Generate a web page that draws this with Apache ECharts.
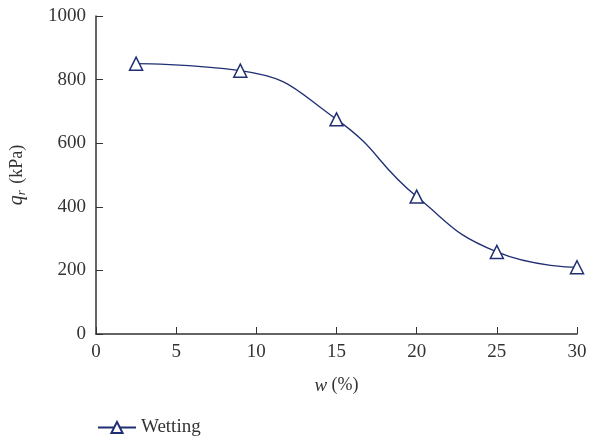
<!DOCTYPE html>
<html>
<head>
<meta charset="utf-8">
<script src="https://cdn.jsdelivr.net/npm/echarts@6/dist/echarts.min.js"></script>
<style>
  html, body { margin: 0; padding: 0; background: #fff; }
  #chart { width: 589px; height: 438px; }
</style>
</head>
<body>
<div id="chart"></div>
<script>
// moisture content w (%) and residual strength q_r (kPa)
var waterContent = [2.5, 9, 15, 20, 25, 30];
var strength = [850, 828, 675, 432, 258, 210];
var seriesName = 'Wetting';

var myChart = echarts.init(document.getElementById('chart'));
var font = 'Liberation Serif';
var lineColor = '#1f2f73';

var option = {
    animation: false,
    textStyle: { fontFamily: font },
    grid: { left: 96, right: 12, top: 16, bottom: 104, containLabel: false, outerBoundsMode: 'none' },
    legend: {
        data: [seriesName],
        left: 92,
        top: 413,
        itemWidth: 38,
        itemHeight: 14,
        itemGap: 6,
        textStyle: { fontFamily: font, fontSize: 19, color: '#333' }
    },
    xAxis: {
        type: 'value',
        min: 0, max: 30, interval: 5,
        name: '{i|w} (%)',
        nameLocation: 'middle',
        nameGap: 42,
        nameTextStyle: {
            fontFamily: font, fontSize: 18, color: '#333',
            rich: { i: { fontStyle: 'italic', fontFamily: font, fontSize: 19, color: '#333' } }
        },
        axisLine: { lineStyle: { color: '#333', width: 1.5 } },
        axisTick: { inside: true, length: 7, lineStyle: { color: '#333' } },
        axisLabel: { fontFamily: font, fontSize: 19, color: '#333', margin: 9 },
        splitLine: { show: false }
    },
    yAxis: {
        type: 'value',
        min: 0, max: 1000, interval: 200,
        name: '{i|q}{s|r} (kPa)',
        nameLocation: 'middle',
        nameGap: 68,
        nameTextStyle: {
            fontFamily: font, fontSize: 18, color: '#333',
            rich: {
                i: { fontStyle: 'italic', fontFamily: font, fontSize: 20, color: '#333' },
                s: { fontStyle: 'italic', fontFamily: font, fontSize: 13, color: '#333', verticalAlign: 'bottom', padding: [9, 2, 0, 0] }
            }
        },
        axisLine: { show: true, lineStyle: { color: '#333', width: 1.5 } },
        axisTick: { show: true, inside: true, length: 7, lineStyle: { color: '#333' } },
        axisLabel: {
            fontFamily: font, fontSize: 19, color: '#333', margin: 10,
            formatter: function (v) { return String(v); }
        },
        splitLine: { show: false }
    },
    series: [{
        name: seriesName,
        type: 'line',
        smooth: 0.5,
        data: waterContent.map(function (w, i) { return [w, strength[i]]; }),
        symbol: 'triangle',
        symbolSize: 13,
        itemStyle: { color: '#fff', borderColor: lineColor, borderWidth: 1.5 },
        lineStyle: { color: lineColor, width: 1.3 }
    }]
};

myChart.setOption(option);
</script>
</body>
</html>
